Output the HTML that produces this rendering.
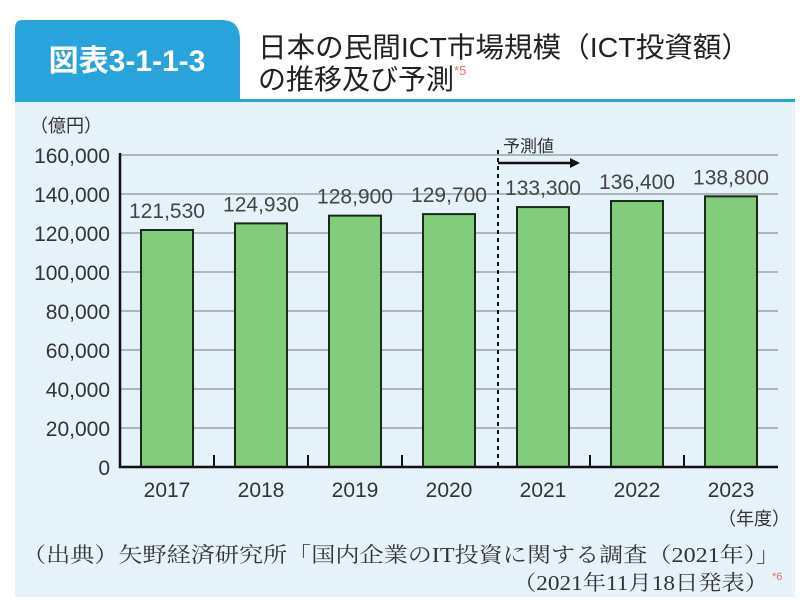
<!DOCTYPE html>
<html><head><meta charset="utf-8"><style>
body{margin:0;width:800px;height:604px;background:#fff;overflow:hidden;font-family:"Liberation Sans","Noto Sans CJK JP",sans-serif;}
</style></head><body>
<svg width="800" height="604" xmlns="http://www.w3.org/2000/svg" id="chart">
<rect x="15" y="100" width="780" height="497" fill="#e5f2fa"/>
<path d="M15,100 L15,28 Q15,20 23,20 L222,20 Q240,20 240,40 L240,100 Z" fill="#29a3dc"/>
<rect x="15" y="99" width="780" height="3" fill="#29a3dc"/>
<text x="127" y="71" text-anchor="middle" font-size="30" font-weight="bold" fill="#fff">図表3-1-1-3</text>
<text x="258" y="57" font-size="28" fill="#222" textLength="492" lengthAdjust="spacingAndGlyphs">日本の民間ICT市場規模（ICT投資額）</text>
<text x="258" y="89" font-size="28" fill="#222">の推移及び予測<tspan font-size="13" fill="#e66" dy="-14">*5</tspan></text>
<text x="30" y="132" font-size="18" fill="#333">（億円）</text>
<g id="grid"></g><g id="bars"></g><g id="labels"></g>
<line x1="498" y1="150" x2="498" y2="467" stroke="#111" stroke-width="2" stroke-dasharray="4,4"/>
<text x="503" y="152" font-size="17" fill="#333">予測値</text>
<line x1="498" y1="163" x2="572" y2="163" stroke="#111" stroke-width="2.5"/>
<path d="M570,158 L580,163 L570,168 Z" fill="#111"/>
<text x="790" y="525" text-anchor="end" font-size="18" fill="#333">（年度）</text>
<text x="22" y="562" font-size="21" fill="#333" textLength="758" lengthAdjust="spacingAndGlyphs" font-family="'Liberation Serif','Noto Serif CJK SC',serif">（出典）矢野経済研究所「国内企業のIT投資に関する調査（2021年）」</text>
<text x="513" y="590" font-size="21" fill="#333" textLength="255" lengthAdjust="spacingAndGlyphs" font-family="'Liberation Serif','Noto Serif CJK SC',serif">（2021年11月18日発表）</text>
<text x="772" y="580" font-size="11" fill="#e66">*6</text>
</svg>
<script>
const categories=["2017","2018","2019","2020","2021","2022","2023"];
const values=[121530,124930,128900,129700,133300,136400,138800];
const valueLabels=["121,530","124,930","128,900","129,700","133,300","136,400","138,800"];
const yTicks=[0,20000,40000,60000,80000,100000,120000,140000,160000];
const yTickLabels=["0","20,000","40,000","60,000","80,000","100,000","120,000","140,000","160,000"];
const NS="http://www.w3.org/2000/svg";
const x0=120,band=94,y0=467,yMax=160000,yTop=155;
function y(v){return y0-(v/yMax)*(y0-yTop);}
function xc(i){return x0+band*i+band/2;}
function mk(t,a,p){const e=document.createElementNS(NS,t);for(const k in a)e.setAttribute(k,a[k]);p.appendChild(e);return e;}
const g=document.getElementById('grid'),b=document.getElementById('bars'),l=document.getElementById('labels');
yTicks.forEach((v,i)=>{
 if(v>0){const gl=mk('line',{x1:x0,x2:x0+band*7,y1:y(v),y2:y(v),stroke:'#9aa3a8','stroke-width':1.5},g);
 
 }
 const t=mk('text',{x:110,y:y(v)+8,'text-anchor':'end','font-size':21,fill:'#333'},g);t.textContent=yTickLabels[i];
 
 
});
categories.forEach((c,i)=>{
 const r=mk('rect',{x:xc(i)-26,y:y(values[i]),width:52,height:y0-y(values[i]),fill:'#82cc7c',stroke:'#1a2a1a','stroke-width':2},b);
 
 
 const t=mk('text',{x:xc(i),y:y(values[i])-12,'text-anchor':'middle','font-size':21,fill:'#444'},l);t.textContent=valueLabels[i];
 
 
 const xl=mk('text',{x:xc(i),y:497,'text-anchor':'middle','font-size':21,fill:'#333'},l);xl.textContent=c;
 
 
 if(i>0&&i!==4){const tk=mk('line',{x1:x0+band*i,x2:x0+band*i,y1:y0,y2:y0-12,stroke:'#111','stroke-width':2},b);
 
 }
});
const ax=mk('path',{d:`M${x0},${yTop-2} L${x0},${y0} L${x0+band*7},${y0}`,fill:'none',stroke:'#111','stroke-width':2.5},b);


</script>
</body></html>
